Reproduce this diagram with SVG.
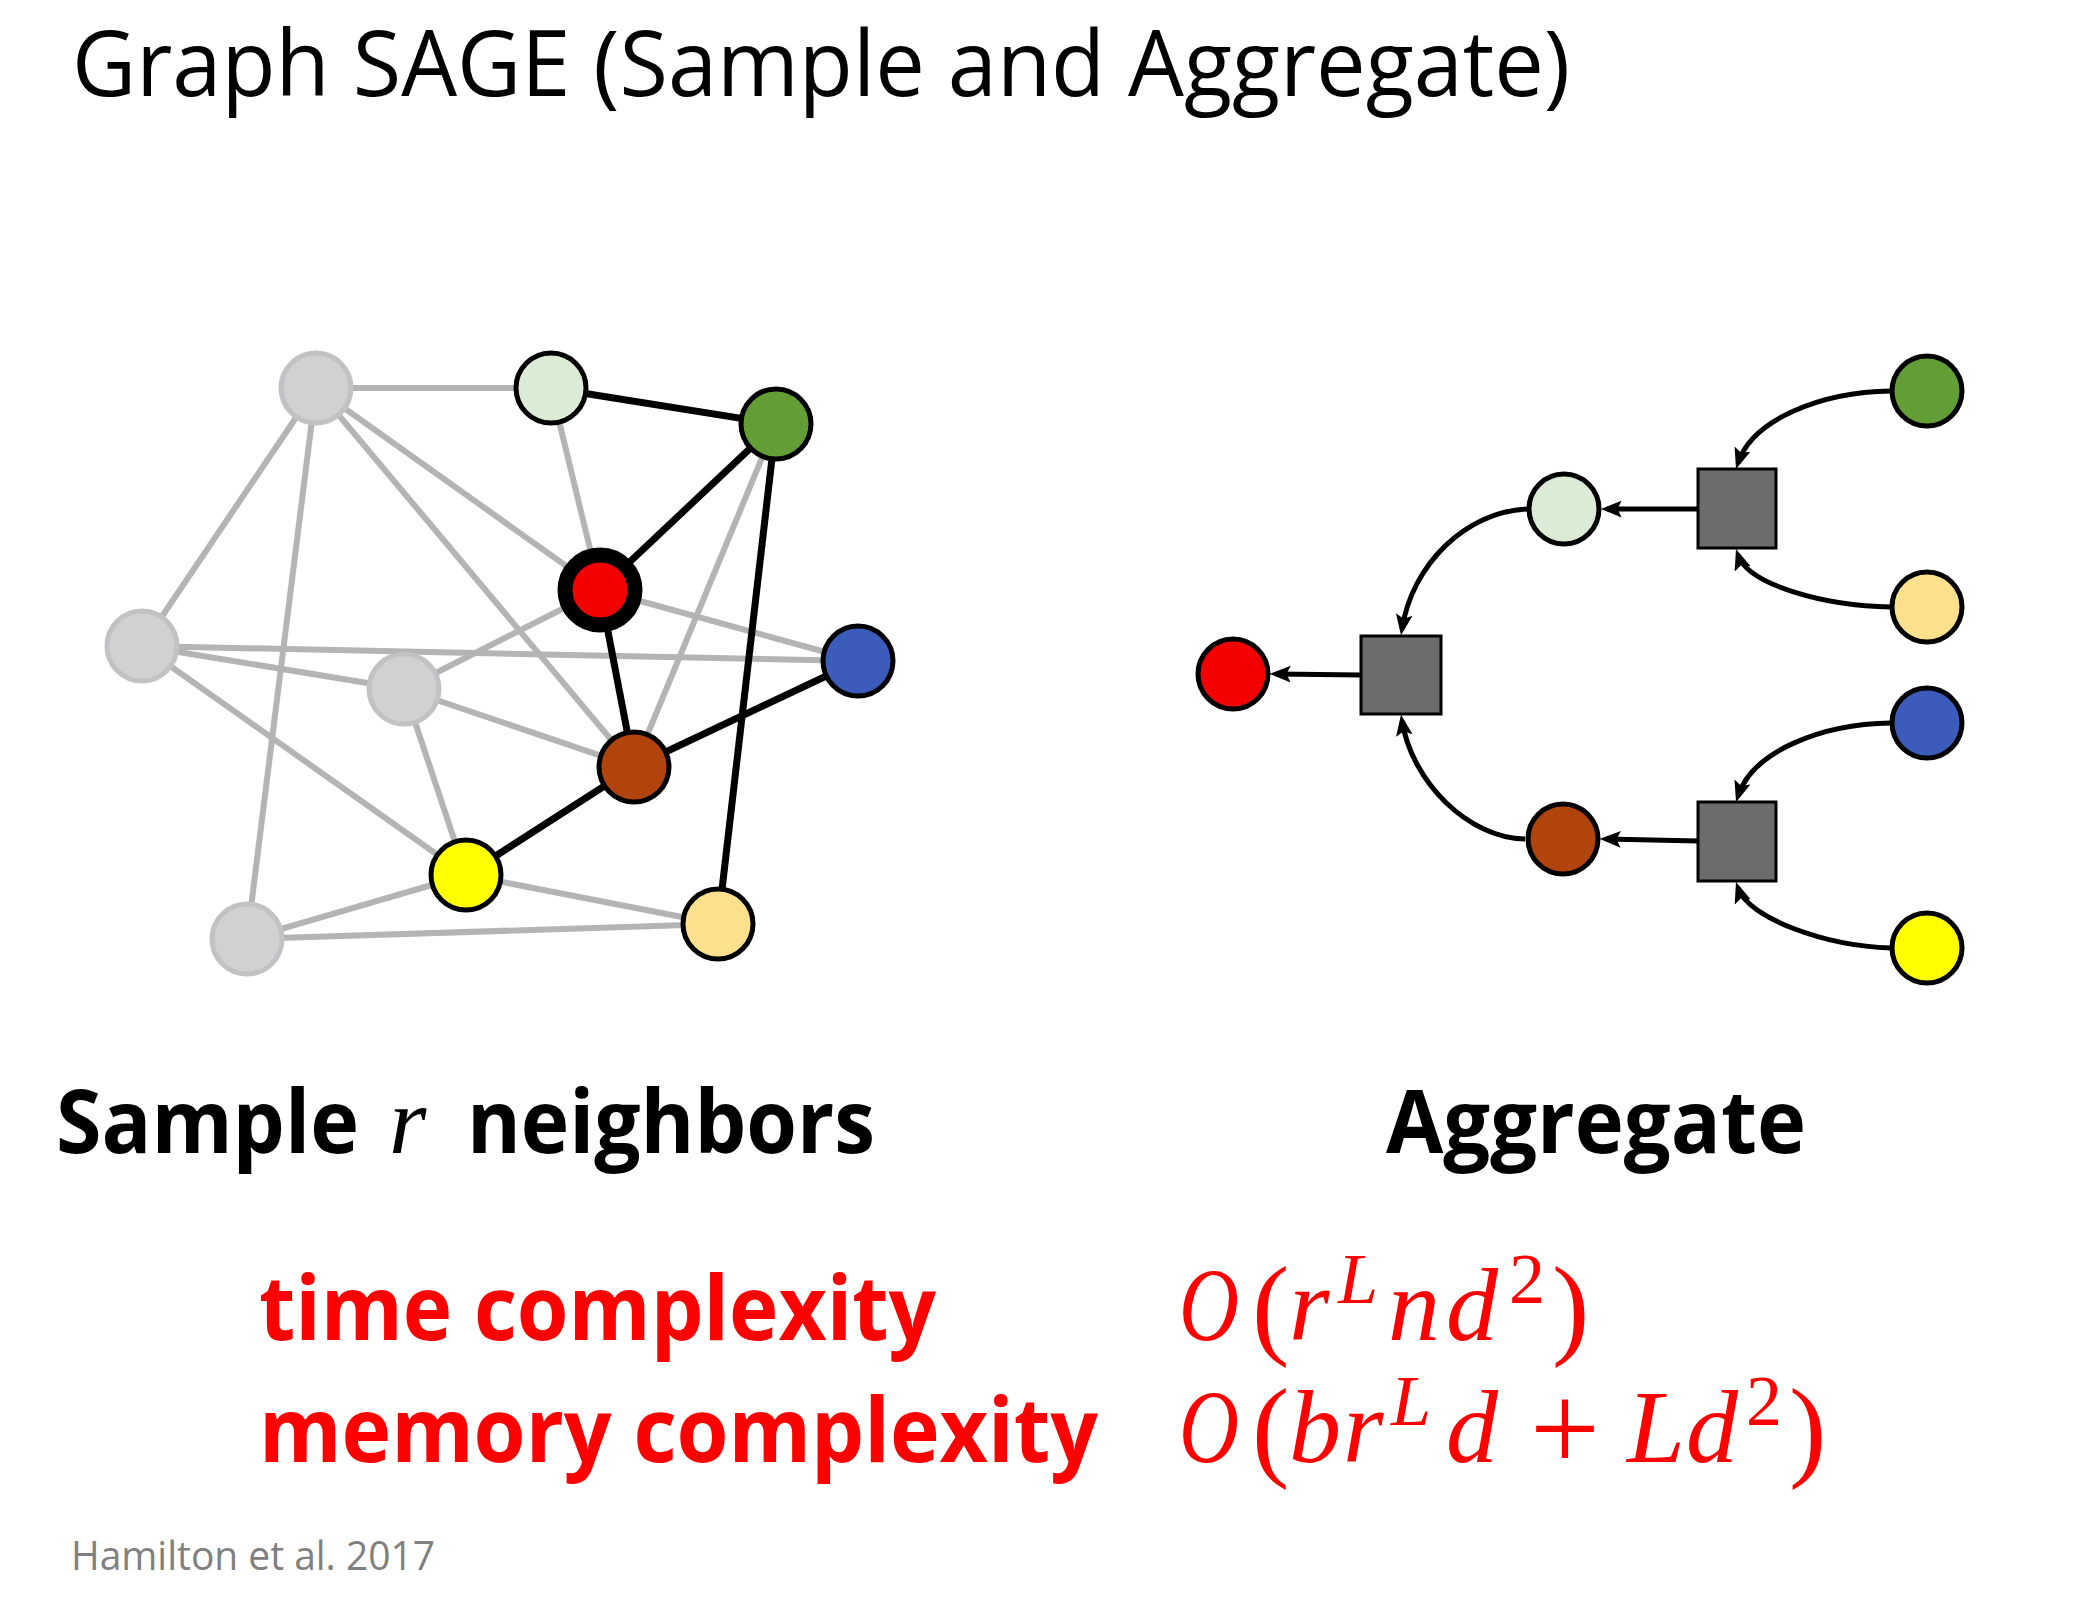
<svg xmlns="http://www.w3.org/2000/svg" width="2100" height="1604" viewBox="0 0 2100 1604">
<defs>
<style>
.ge{stroke:#b4b4b7;stroke-width:6;fill:none}
.be{stroke:#000;stroke-width:7;fill:none}
.gn{fill:#d1d1d4;stroke:#c2c2c5;stroke-width:5}
.nd{stroke:#000;stroke-width:5}
.sq{fill:#6d6b6e;stroke:#000;stroke-width:3}
.ar{stroke:#000;stroke-width:5;fill:none;marker-end:url(#ah)}
.sans{font-family:"Open Sans","Noto Sans","Liberation Sans",sans-serif}
.math{font-family:"Liberation Serif","DejaVu Serif",serif;font-style:italic;fill:#f00}
.up{font-style:normal}
</style>
<marker id="ah" viewBox="0 0 20 16" refX="14" refY="8" markerWidth="21" markerHeight="17" markerUnits="userSpaceOnUse" orient="auto">
<path d="M0,0 L20,8 L0,16 L4,8 z" fill="#000"/>
</marker>
</defs>
<rect width="2100" height="1604" fill="#fff"/>

<text class="sans" x="72" y="96" font-size="92" textLength="1498" lengthAdjust="spacingAndGlyphs" fill="#000">Graph SAGE (Sample and Aggregate)</text>

<g id="connectors">
<g id="left-edges">
<line class="ge" x1="316" y1="388" x2="551" y2="388"/>
<line class="ge" x1="316" y1="388" x2="142" y2="646"/>
<line class="ge" x1="316" y1="388" x2="247" y2="939"/>
<line class="ge" x1="316" y1="388" x2="600" y2="590"/>
<line class="ge" x1="316" y1="388" x2="634" y2="767"/>
<line class="ge" x1="551" y1="388" x2="600" y2="590"/>
<line class="ge" x1="142" y1="646" x2="858" y2="661"/>
<line class="ge" x1="142" y1="646" x2="404" y2="689"/>
<line class="ge" x1="142" y1="646" x2="466" y2="875"/>
<line class="ge" x1="404" y1="689" x2="600" y2="590"/>
<line class="ge" x1="404" y1="689" x2="634" y2="767"/>
<line class="ge" x1="404" y1="689" x2="466" y2="875"/>
<line class="ge" x1="600" y1="590" x2="858" y2="661"/>
<line class="ge" x1="776" y1="424" x2="634" y2="767"/>
<line class="ge" x1="466" y1="875" x2="247" y2="939"/>
<line class="ge" x1="466" y1="875" x2="718" y2="924"/>
<line class="ge" x1="247" y1="939" x2="718" y2="924"/>
<line class="be" x1="551" y1="388" x2="776" y2="424"/>
<line class="be" x1="776" y1="424" x2="600" y2="590"/>
<line class="be" x1="600" y1="590" x2="634" y2="767"/>
<line class="be" x1="776" y1="424" x2="718" y2="924"/>
<line class="be" x1="634" y1="767" x2="858" y2="661"/>
<line class="be" x1="634" y1="767" x2="466" y2="875"/>
</g>
<g id="right-arrows">
<path class="ar" d="M1698,509 L1607,509"/>
<path class="ar" d="M1361,675 L1276,674"/>
<path class="ar" d="M1698,841 L1606,839"/>
<path class="ar" d="M1891,391 C1820,392 1752,420 1738,463"/>
<path class="ar" d="M1891,607 C1825,606 1748,585 1738,555"/>
<path class="ar" d="M1891,723 C1820,724 1752,752 1738,796"/>
<path class="ar" d="M1891,948 C1825,946 1748,918 1738,888"/>
<path class="ar" d="M1527,509 C1465,512 1412,565 1402,629"/>
<path class="ar" d="M1525,839 C1468,838 1412,782 1402,721"/>
</g>
</g>

<g id="left-graph">
<g id="l-gray-top"><circle class="gn" cx="316" cy="388" r="35"/></g>
<g id="l-gray-left"><circle class="gn" cx="142" cy="646" r="35"/></g>
<g id="l-gray-mid"><circle class="gn" cx="404" cy="689" r="35"/></g>
<g id="l-gray-bottom"><circle class="gn" cx="247" cy="939" r="35"/></g>
<g id="l-lightgreen"><circle class="nd" cx="551" cy="388" r="35" fill="#dcebd5"/></g>
<g id="l-green"><circle class="nd" cx="776" cy="424" r="35" fill="#629d35"/></g>
<g id="l-red"><circle cx="600" cy="590" r="35" fill="#f40000" stroke="#000" stroke-width="15"/></g>
<g id="l-blue"><circle class="nd" cx="858" cy="661" r="35" fill="#3b5cba"/></g>
<g id="l-brown"><circle class="nd" cx="634" cy="767" r="35" fill="#b0440c"/></g>
<g id="l-yellow"><circle class="nd" cx="466" cy="875" r="35" fill="#ffff00"/></g>
<g id="l-peach"><circle class="nd" cx="718" cy="924" r="35" fill="#fde08d"/></g>
</g>

<g id="right-graph">
<g id="r-red"><circle class="nd" cx="1233" cy="674" r="35" fill="#f40000"/></g>
<g id="r-agg0"><rect class="sq" x="1361" y="636" width="80" height="78"/></g>
<g id="r-lightgreen"><circle class="nd" cx="1564" cy="509" r="35" fill="#dcebd5"/></g>
<g id="r-brown"><circle class="nd" cx="1563" cy="839" r="35" fill="#b0440c"/></g>
<g id="r-agg1"><rect class="sq" x="1698" y="469" width="78" height="79"/></g>
<g id="r-agg2"><rect class="sq" x="1698" y="802" width="78" height="79"/></g>
<g id="r-green"><circle class="nd" cx="1927" cy="391" r="35" fill="#629d35"/></g>
<g id="r-peach"><circle class="nd" cx="1927" cy="607" r="35" fill="#fde08d"/></g>
<g id="r-blue"><circle class="nd" cx="1927" cy="723" r="35" fill="#3b5cba"/></g>
<g id="r-yellow"><circle class="nd" cx="1927" cy="948" r="35" fill="#ffff00"/></g>
</g>

<g id="labels">
<text class="sans" x="56" y="1153" font-size="88" font-weight="bold" textLength="303" lengthAdjust="spacingAndGlyphs">Sample</text>
<text x="389" y="1153" font-size="96" font-family="Liberation Serif, serif" font-style="italic">r</text>
<text class="sans" x="467" y="1153" font-size="88" font-weight="bold" textLength="408" lengthAdjust="spacingAndGlyphs">neighbors</text>
<text class="sans" x="1386" y="1153" font-size="88" font-weight="bold" textLength="420" lengthAdjust="spacingAndGlyphs">Aggregate</text>
<text class="sans" x="259" y="1340" font-size="90" font-weight="bold" fill="#f00" textLength="677" lengthAdjust="spacingAndGlyphs">time complexity</text>
<text class="sans" x="259" y="1462" font-size="90" font-weight="bold" fill="#f00" textLength="839" lengthAdjust="spacingAndGlyphs">memory complexity</text>

<text class="math" x="1179" y="1340" font-size="104" textLength="60" lengthAdjust="spacingAndGlyphs">O</text>
<text class="math" y="1340" font-size="104"><tspan x="1252" y="1344" font-size="112" class="up">(</tspan><tspan x="1289" y="1340">r</tspan><tspan x="1338" y="1303" font-size="72">L</tspan><tspan x="1388" y="1340">n</tspan><tspan x="1446">d</tspan><tspan x="1509" y="1303" font-size="72" class="up">2</tspan><tspan x="1552" y="1344" font-size="112" class="up">)</tspan></text>
<text class="math" x="1179" y="1462" font-size="104" textLength="60" lengthAdjust="spacingAndGlyphs">O</text>
<text class="math" y="1462" font-size="104"><tspan x="1252" y="1466" font-size="112" class="up">(</tspan><tspan x="1289" y="1462">b</tspan><tspan x="1343">r</tspan><tspan x="1391" y="1425" font-size="72">L</tspan><tspan x="1446" y="1462">d</tspan><tspan x="1530" y="1470" font-size="124" class="up">+</tspan><tspan x="1627" y="1462">L</tspan><tspan x="1686">d</tspan><tspan x="1746" y="1425" font-size="72" class="up">2</tspan><tspan x="1789" y="1466" font-size="112" class="up">)</tspan></text>

<text class="sans" x="71" y="1570" font-size="40" fill="#808080" textLength="364" lengthAdjust="spacingAndGlyphs">Hamilton et al. 2017</text>
</g>
</svg>
